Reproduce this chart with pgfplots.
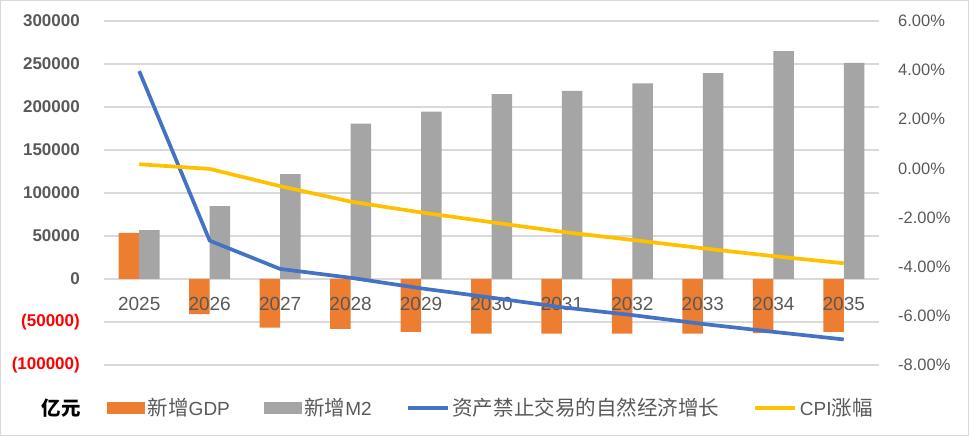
\documentclass[border=0pt]{standalone}
\usepackage{fontspec}
\setmainfont{Liberation Sans}
\newfontfamily\cjk[Scale=1.08]{Noto Sans CJK SC}
\usepackage{pgfplots}
\pgfplotsset{compat=1.18}

\definecolor{cOrange}{HTML}{ED7D31}
\definecolor{cGray}{HTML}{A5A5A5}
\definecolor{cBlue}{HTML}{4472C4}
\definecolor{cYellow}{HTML}{FFC000}
\definecolor{cText}{HTML}{595959}
\definecolor{cGrid}{HTML}{D9D9D9}

\begin{document}
\begin{tikzpicture}
% left axis: bars, 亿元
\begin{axis}[
    at={(104bp,71bp)}, anchor=south west,
    scale only axis, width=775bp, height=344bp,
    xmin=-0.5, xmax=10.5,
    ymin=-100000, ymax=300000,
    ybar=0pt, bar width=20.5bp,
    xtick={0,...,10},
    xticklabels={},
    ytick={-100000,-50000,0,50000,100000,150000,200000,250000,300000},
    yticklabels={\textcolor{red}{(100000)},\textcolor{red}{(50000)},0,50000,100000,150000,200000,250000,300000},
    scaled ticks=false,
    axis line style={draw=none},
    major tick length=0pt,
    ymajorgrids,
    grid style={cGrid, line width=1.2bp},
    yticklabel style={font=\fontsize{17bp}{20bp}\selectfont\bfseries, text=cText, anchor=east, inner sep=0pt, xshift=-24bp},
]
\addplot[fill=cOrange, draw=none] coordinates {
  (0,53600) (1,-40800) (2,-56400) (3,-58000) (4,-61500) (5,-63400)
  (6,-63400) (7,-63400) (8,-63400) (9,-63000) (10,-61500)
};
\addplot[fill=cGray, draw=none] coordinates {
  (0,56700) (1,84700) (2,122000) (3,180700) (4,194700) (5,214900)
  (6,218800) (7,227400) (8,239400) (9,265000) (10,251400)
};
\end{axis}

% right axis: lines, %, and the year labels on top of the bars
\begin{axis}[
    at={(104bp,71bp)}, anchor=south west,
    scale only axis, width=775bp, height=344bp,
    xmin=-0.5, xmax=10.5,
    ymin=-8, ymax=6,
    axis y line*=right,
    axis x line*=bottom,
    axis line style={draw=none},
    major tick length=0pt,
    xtick={0,...,10},
    xticklabels={2025,2026,2027,2028,2029,2030,2031,2032,2033,2034,2035},
    xticklabel style={font=\fontsize{19bp}{22bp}\selectfont, text=cText, anchor=center, inner sep=0pt, yshift=61bp},
    ytick={-8,-6,-4,-2,0,2,4,6},
    yticklabels={-8.00\%,-6.00\%,-4.00\%,-2.00\%,0.00\%,2.00\%,4.00\%,6.00\%},
    yticklabel style={font=\fontsize{16.5bp}{20bp}\selectfont, text=cText, anchor=west, inner sep=0pt, xshift=19bp},
    legend columns=4,
    legend cell align=left,
    legend style={at={(0.004,-0.125)}, anchor=west, draw=none, fill=none,
      inner sep=0pt, text=cText,
      font=\fontsize{19bp}{22bp}\selectfont,
      nodes={inner sep=3bp},
      /tikz/every even column/.append style={column sep=31bp}},
    legend image code/.code={\draw[#1] (0bp,0bp) -- (40bp,0bp);},
]
\addlegendimage{legend image code/.code={\fill[cOrange] (0bp,-5.5bp) rectangle (37bp,5.5bp);}}
\addlegendentry{{\cjk 新增}GDP}
\addlegendimage{legend image code/.code={\fill[cGray] (0bp,-5.5bp) rectangle (37bp,5.5bp);}}
\addlegendentry{{\cjk 新增}M2}
\addplot[cBlue, line width=3.7bp, line join=round] coordinates {
  (0,3.96) (1,-2.94) (2,-4.09) (3,-4.45) (4,-4.88) (5,-5.26)
  (6,-5.65) (7,-5.97) (8,-6.33) (9,-6.65) (10,-6.96)
};
\addlegendentry{{\cjk 资产禁止交易的自然经济增长}}
\addplot[cYellow, line width=3.7bp, line join=round] coordinates {
  (0,0.17) (1,-0.02) (2,-0.72) (3,-1.35) (4,-1.79) (5,-2.19)
  (6,-2.58) (7,-2.91) (8,-3.25) (9,-3.57) (10,-3.86)
};
\addlegendentry{CPI{\cjk 涨幅}}
\end{axis}

\node[anchor=east, inner sep=0pt, font=\fontsize{18bp}{22bp}\selectfont] at (81bp,28bp) {\cjk\bfseries 亿元};
\draw[cGrid, line width=1.2bp] (0.6bp,0.6bp) rectangle (968.4bp,435.4bp);
\pgfresetboundingbox
\useasboundingbox (0,0) rectangle (969bp,436bp);
\end{tikzpicture}
\end{document}
